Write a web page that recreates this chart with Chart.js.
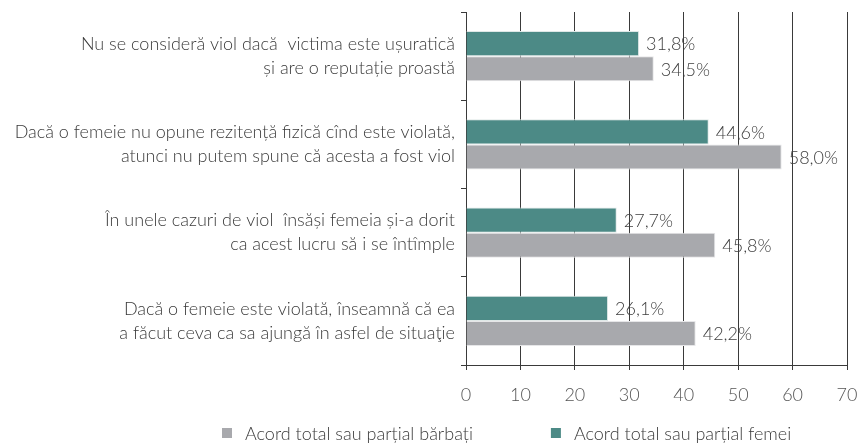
<!DOCTYPE html>
<html>
<head>
<meta charset="utf-8">
<script src="https://cdn.jsdelivr.net/npm/chart.js@4.4.0/dist/chart.umd.min.js"></script>
<style>
  html, body { margin: 0; padding: 0; background: #fff; }
  #wrap { width: 862px; height: 443px; }
</style>
</head>
<body>
<div id="wrap"><canvas id="myChart" width="862" height="443"></canvas></div>
<script>
const categories = [
    ['Nu se consideră viol dacă  victima este ușuratică', 'și are o reputație proastă'],
    ['Dacă o femeie nu opune rezitență fizică cînd este violată,', 'atunci nu putem spune că acesta a fost viol'],
    ['În unele cazuri de viol  însăși femeia și-a dorit', 'ca acest lucru să i se întîmple'],
    ['Dacă o femeie este violată, înseamnă că ea', 'a făcut ceva ca sa ajungă în asfel de situaţie']
];
const femei = [31.8, 44.6, 27.7, 26.1];
const barbati = [34.5, 58.0, 45.8, 42.2];
const seriesNames = ['Acord total sau parțial femei', 'Acord total sau parțial bărbați'];

const FONT = 'Lato, "Noto Sans", sans-serif';

// draws "31,8%" after the end of each bar
const valueLabels = {
    id: 'valueLabels',
    afterDatasetsDraw(chart) {
        const c = chart.ctx;
        c.save();
        c.font = '300 18px ' + FONT;
        c.fillStyle = '#404040';
        c.textBaseline = 'middle';
        c.textAlign = 'left';
        chart.data.datasets.forEach((ds, i) => {
            chart.getDatasetMeta(i).data.forEach((bar, j) => {
                const txt = ds.data[j].toFixed(1).replace('.', ',') + '%';
                c.fillText(txt, bar.x + 7, bar.y + 1);
            });
        });
        c.restore();
    }
};

// legend drawn by hand: bărbați first, wide gap between items like the original
const bottomLegend = {
    id: 'bottomLegend',
    afterDraw(chart) {
        const c = chart.ctx;
        const items = chart.data.datasets.slice().reverse();
        c.save();
        c.font = '300 18px ' + FONT;
        c.textBaseline = 'middle';
        c.textAlign = 'left';
        const y = chart.height - 10;
        let x = 222;
        items.forEach(ds => {
            c.fillStyle = ds.backgroundColor;
            c.fillRect(x, y - 5, 10, 10);
            c.fillStyle = '#3a3a3a';
            c.fillText(ds.label, x + 23, y + 1);
            x += 23 + c.measureText(ds.label).width + 78;
        });
        c.restore();
    }
};

const ctx = document.getElementById('myChart');
const myChart = new Chart(ctx, {
    type: 'bar',
    data: {
        labels: categories,
        datasets: [{
            label: seriesNames[0],
            data: femei,
            backgroundColor: '#4c8a86',
            borderColor: '#dfe8e7',
            borderWidth: 1,
            categoryPercentage: 0.57,
            barPercentage: 1
        }, {
            label: seriesNames[1],
            data: barbati,
            backgroundColor: '#a8a9ad',
            borderColor: '#e6e6e8',
            borderWidth: 1,
            categoryPercentage: 0.57,
            barPercentage: 1
        }]
    },
    options: {
        indexAxis: 'y',
        responsive: false,
        animation: false,
        layout: { padding: { top: 12, right: 15, left: 0, bottom: 38 } },
        scales: {
            x: {
                min: 0,
                max: 70,
                ticks: { stepSize: 10, color: '#555', font: { family: FONT, size: 18, weight: '300' }, padding: 14 },
                grid: { color: '#3a3a3a', lineWidth: 1, tickLength: 5 },
                border: { color: '#3a3a3a' },
                afterFit(scale) {
                    scale.height = 40;
                    scale.paddingLeft = 0;
                    scale.paddingRight = 0;
                }
            },
            y: {
                offset: true,
                ticks: { color: '#3a3a3a', font: { family: FONT, size: 18, weight: '300', lineHeight: 1.33 }, padding: 6 },
                grid: { drawOnChartArea: false, offset: true, color: '#3a3a3a', tickLength: 5 },
                border: { color: '#3a3a3a' },
                afterFit(scale) {
                    scale.width = 466;
                    scale.paddingTop = 0;
                    scale.paddingBottom = 0;
                }
            }
        },
        plugins: {
            legend: { display: false },
            tooltip: { enabled: false }
        }
    },
    plugins: [valueLabels, bottomLegend]
});
</script>
</body>
</html>
